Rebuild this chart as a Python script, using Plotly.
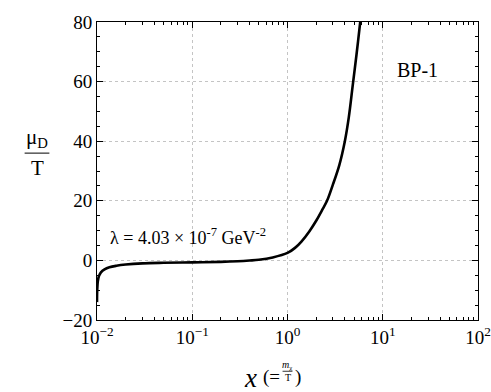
import numpy as np
import plotly.graph_objects as go

# curve (x = m/T, mu_D/T)
x_vals = [0.01, 0.01005, 0.0102, 0.0105, 0.011, 0.012, 0.0135, 0.016, 0.02, 0.03, 0.05,
          0.1, 0.2, 0.3, 0.4, 0.5, 0.7, 1.0, 1.2, 1.4, 1.7, 2.0, 2.3, 2.6, 3.0, 3.5,
          4.0, 4.4, 4.85, 5.3, 5.8, 6.1]
mu_vals = [-14, -10, -7, -5.2, -4.0, -3.0, -2.3, -1.8, -1.4, -1.0, -0.8,
           -0.65, -0.5, -0.3, -0.05, 0.2, 1.0, 2.5, 4.2, 6.3, 9.8, 13.3, 16.8, 20, 25.5, 32,
           40, 48, 59, 69, 80, 87]

y_ticks = [-20, 0, 20, 40, 60, 80]
y_ticklabels = ['\u221220', '0', '20', '40', '60', '80']
x_ticks = [0.01, 0.1, 1, 10, 100]
x_ticklabels = ['10<sup>\u22122</sup>', '10<sup>\u22121</sup>', '10<sup>0</sup>',
                '10<sup>1</sup>', '10<sup>2</sup>']

serif = 'Liberation Serif, serif'

fig = go.Figure()
fig.add_trace(go.Scatter(x=x_vals, y=mu_vals, mode='lines',
                         line=dict(color='black', width=2.6, shape='spline', smoothing=1.0),
                         showlegend=False))

xdict = dict(type='log', range=[-2, 2], tickmode='array', tickvals=x_ticks, ticktext=x_ticklabels,
             ticks='inside', ticklen=6, tickcolor='black', showline=True, linecolor='black',
             linewidth=1, mirror='allticks', showgrid=True, gridcolor='#c4c4c4', griddash='dot',
             gridwidth=1, zeroline=False, automargin=False,
             tickfont=dict(size=19, family=serif, color='black'),
             minor=dict(ticks='inside', ticklen=3, tickcolor='black', dtick='D1', showgrid=False))
ydict = dict(range=[-20, 80], tickmode='array', tickvals=y_ticks, ticktext=y_ticklabels,
             ticks='inside', ticklen=6, tickcolor='black', showline=True, linecolor='black',
             linewidth=1, mirror='allticks', showgrid=True, gridcolor='#c4c4c4', griddash='dot',
             gridwidth=1, zeroline=False, automargin=False,
             tickfont=dict(size=19, family=serif, color='black'),
             minor=dict(ticks='inside', ticklen=3, tickcolor='black', dtick=5, showgrid=False))

fig.update_layout(xaxis=xdict, yaxis=ydict,
                  width=491, height=392, autosize=False,
                  margin=dict(l=97, r=13, t=22, b=72),
                  paper_bgcolor='white', plot_bgcolor='white',
                  font=dict(family=serif, color='black'))

# y-axis label as a fraction
fig.add_annotation(text='\u03bc<sub>D</sub>', xref='paper', yref='paper', x=-0.157, y=0.61,
                   showarrow=False, font=dict(size=21), xanchor='center', yanchor='middle')
fig.add_shape(type='line', xref='paper', yref='paper', x0=-0.19, x1=-0.125, y0=0.56, y1=0.56,
              line=dict(color='black', width=1))
fig.add_annotation(text='T', xref='paper', yref='paper', x=-0.157, y=0.51,
                   showarrow=False, font=dict(size=21), xanchor='center', yanchor='middle')

# x-axis label: x (= m_chi / T)
fig.add_annotation(text='<i>x</i>', xref='paper', yref='paper', x=0.404, y=-0.193,
                   showarrow=False, font=dict(size=27), xanchor='center', yanchor='middle')
fig.add_annotation(text='(=', xref='paper', yref='paper', x=0.458, y=-0.19,
                   showarrow=False, font=dict(size=19), xanchor='center', yanchor='middle')
fig.add_annotation(text='<i>m</i><sub>\u03c7</sub>', xref='paper', yref='paper', x=0.5, y=-0.152,
                   showarrow=False, font=dict(size=10), xanchor='center', yanchor='middle')
fig.add_shape(type='line', xref='paper', yref='paper', x0=0.487, x1=0.513, y0=-0.172, y1=-0.172,
              line=dict(color='black', width=0.8))
fig.add_annotation(text='T', xref='paper', yref='paper', x=0.5, y=-0.192,
                   showarrow=False, font=dict(size=10), xanchor='center', yanchor='middle')
fig.add_annotation(text=')', xref='paper', yref='paper', x=0.528, y=-0.19,
                   showarrow=False, font=dict(size=19), xanchor='center', yanchor='middle')

# in-plot text
fig.add_annotation(text='\u03bb = 4.03 \u00d7 10<sup>-7</sup> GeV<sup>-2</sup>', xref='paper', yref='paper',
                   x=0.029, y=0.279, showarrow=False, font=dict(size=18),
                   xanchor='left', yanchor='middle')
fig.add_annotation(text='BP-1', xref='paper', yref='paper', x=0.84, y=0.839,
                   showarrow=False, font=dict(size=20), xanchor='center', yanchor='middle')

# the page adds an 8px body margin; drop it so the figure sits at the corner
fig.write_html("out.html", config={'displayModeBar': False},
               post_script="document.body.style.margin='0';")
